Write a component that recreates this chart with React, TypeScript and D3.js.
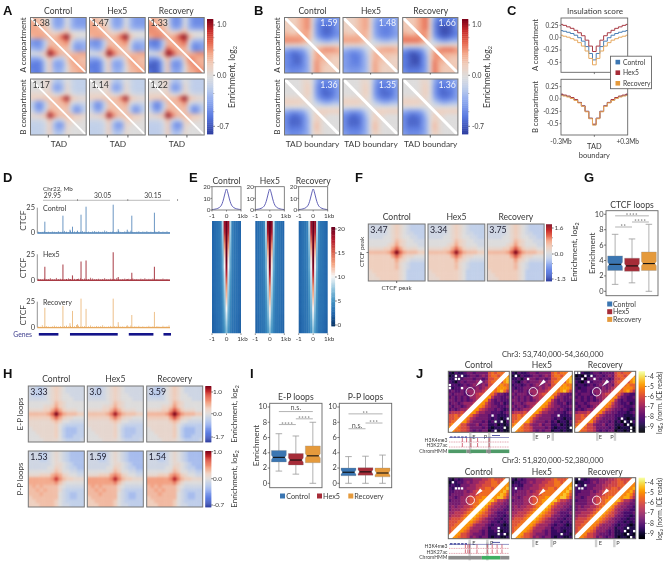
import React from "react";
import * as d3 from "d3";

const conditions = ["Control", "Hex5", "Recovery"];
const condColors = ["#3b76b2", "#a62c38", "#e59a3c"];
const lineColors = ["#4a7fb5", "#a83a44", "#e6a85e"];

// pile-up matrices (units: tenths of the colour range, -10..10)
const tadA = [
  [3,3,2,1,0,-4,-5,-4,0,-3,-5,-5,-5],
  [4,3,3,2,0,-4,-5,-4,0,-3,-5,-5,-5],
  [4,4,3,3,1,-3,-4,-3,1,-3,-4,-4,-4],
  [4,4,4,3,2,1,1,2,3,0,0,0,0],
  [3,4,4,4,3,3,4,7,10,3,1,0,0],
  [-5,-6,-5,-2,3,3,4,4,6,0,-3,-3,-3],
  [-5,-6,-5,-2,3,3,3,4,4,-1,-5,-5,-4],
  [-3,-4,-4,-1,6,4,3,2,3,-1,-5,-5,-4],
  [0,0,1,3,10,7,4,3,3,3,3,4,4],
  [-4,-4,-3,0,3,-1,-2,-2,2,4,4,3,3],
  [-6,-7,-6,-2,2,-4,-5,-4,1,4,4,3,3],
  [-7,-7,-6,-2,2,-4,-5,-4,0,3,4,4,3],
  [-6,-7,-6,-2,2,-3,-4,-3,0,3,3,4,4],
];
const tadB = [
  [0,0,0,1,1,-2,-3,-2,0,-1,-2,-2,-2],
  [0,0,0,1,1,-4,-5,-3,1,-1,-2,-2,-2],
  [0,0,0,1,1,-4,-5,-3,1,-1,-2,-2,-2],
  [1,1,1,1,2,0,-1,0,2,0,-1,-1,-1],
  [2,2,2,3,2,3,3,6,10,3,2,1,1],
  [-2,-5,-5,-2,3,3,3,3,5,0,-1,-1,-1],
  [-2,-6,-6,-2,2,3,3,3,3,-2,-5,-4,-2],
  [-1,-4,-4,-1,5,3,3,2,3,-2,-6,-5,-2],
  [1,1,2,3,10,6,3,3,3,3,2,2,1],
  [-1,-1,-1,0,3,-1,-2,-1,2,2,1,1,0],
  [-2,-2,-2,-1,2,-3,-6,-5,1,1,0,0,0],
  [-2,-2,-2,-1,2,-3,-5,-4,1,0,0,0,0],
  [-2,-2,-2,-1,2,-2,-3,-2,1,0,0,0,0],
];
const boundA = [
  [2,2,2,3,4,5,1,-4,-6,-6,-6,-6,-5],
  [2,2,2,3,4,5,1,-5,-7,-7,-7,-7,-5],
  [2,2,2,3,4,5,1,-5,-7,-8,-8,-7,-5],
  [3,2,2,3,4,4,1,-5,-7,-8,-8,-7,-6],
  [4,4,4,4,4,4,1,-4,-6,-7,-7,-6,-5],
  [5,5,5,5,4,3,0,-2,-3,-4,-4,-3,-3],
  [1,1,1,1,1,0,0,0,1,1,1,1,1],
  [-4,-5,-5,-5,-4,-2,0,3,4,5,5,5,4],
  [-6,-7,-8,-7,-6,-3,1,4,4,3,3,3,3],
  [-6,-7,-8,-8,-6,-4,1,4,4,3,3,2,2],
  [-6,-7,-8,-8,-6,-4,1,5,3,3,2,2,2],
  [-6,-7,-7,-7,-6,-4,1,5,3,2,2,2,2],
  [-5,-6,-6,-6,-5,-4,1,5,3,2,2,2,2],
];
const boundB = [
  [0,0,0,0,1,1,0,-4,-6,-6,-6,-5,-4],
  [0,0,0,0,1,2,0,-5,-7,-7,-7,-6,-5],
  [0,0,0,0,1,2,0,-5,-7,-8,-7,-7,-5],
  [0,0,0,0,1,2,0,-5,-7,-8,-8,-7,-5],
  [1,1,1,1,1,1,0,-4,-6,-7,-7,-6,-5],
  [2,2,2,2,1,1,0,-2,-3,-4,-4,-3,-3],
  [0,0,0,0,0,0,0,0,0,0,0,0,0],
  [-4,-5,-5,-5,-4,-2,0,1,2,2,2,2,2],
  [-6,-7,-8,-7,-6,-3,0,2,1,1,0,0,0],
  [-6,-8,-8,-8,-6,-4,0,2,1,0,0,0,0],
  [-6,-8,-8,-8,-6,-4,0,3,1,0,0,0,0],
  [-6,-7,-7,-7,-6,-4,0,3,1,0,0,0,0],
  [-5,-6,-6,-6,-5,-4,0,2,1,0,0,0,0],
];
const loopF = [
  [-1,-1,-1,-1,-1,0,1,2,1,0,-1,-2,-2,-2,-2],
  [-1,-1,-1,-1,-1,0,1,2,1,0,-1,-2,-2,-2,-2],
  [-1,-1,-1,-1,-1,0,1,2,1,0,-1,-1,-2,-2,-2],
  [-1,-1,-1,-1,0,0,1,2,1,0,0,-1,-1,-2,-2],
  [0,0,0,0,0,0,1,3,2,1,0,0,-1,-1,-1],
  [0,0,0,0,0,1,2,4,2,1,0,0,0,-1,-1],
  [1,1,1,1,2,2,4,6,4,2,1,1,1,0,0],
  [3,3,3,3,3,4,6,10,6,4,3,3,3,2,2],
  [2,2,2,2,2,2,4,6,4,2,1,1,0,0,0],
  [2,2,2,2,2,2,2,4,2,1,0,-1,-1,-1,-1],
  [2,2,2,2,2,2,2,3,1,0,-1,-2,-2,-2,-2],
  [2,2,2,2,2,2,2,3,1,0,-1,-2,-2,-2,-2],
  [1,2,2,2,2,2,2,2,1,0,-2,-2,-2,-2,-2],
  [1,1,2,2,2,2,2,2,1,0,-2,-2,-2,-2,-2],
  [1,1,1,2,2,2,2,2,1,0,-2,-2,-2,-2,-2],
];
const loopEP = [
  [-1,-1,-2,-2,-1,0,1,2,1,0,-1,-1,-1,-1,-1],
  [-1,-2,-2,-2,-1,0,1,2,1,0,-1,-1,-1,-1,-1],
  [-1,-2,-2,-2,-1,0,1,2,1,0,0,-1,-1,-1,-1],
  [-1,-1,-1,-1,-1,0,1,2,1,0,0,0,-1,-1,-1],
  [0,0,0,0,0,0,1,3,2,1,0,0,0,0,0],
  [0,0,0,0,1,1,2,4,2,1,0,0,0,0,0],
  [1,1,1,1,2,2,4,6,4,2,1,1,1,0,0],
  [3,3,3,3,3,4,6,10,6,4,3,3,3,2,2],
  [2,2,2,2,2,2,4,6,4,2,1,1,0,0,0],
  [1,1,1,1,1,1,2,3,2,0,0,-1,-1,-1,-1],
  [1,1,1,1,1,1,1,2,0,-1,-2,-2,-2,-2,-2],
  [0,1,1,1,1,1,1,2,0,-2,-3,-3,-3,-2,-2],
  [0,0,1,1,1,1,1,2,0,-2,-3,-3,-3,-2,-2],
  [0,0,0,1,1,1,1,2,0,-2,-3,-3,-2,-2,-2],
  [0,0,0,0,1,1,1,1,0,-1,-2,-2,-2,-2,-1],
];
const loopPP = [
  [-1,-1,-1,-2,-2,-1,0,1,0,-1,-2,-3,-3,-3,-3],
  [-1,-1,-1,-2,-2,-1,0,1,0,-1,-2,-3,-3,-3,-3],
  [-1,-1,-1,-2,-2,-1,0,1,0,-1,-2,-3,-3,-3,-3],
  [-1,-1,-1,-1,-1,-1,0,1,1,0,-1,-2,-3,-3,-3],
  [-1,-1,-1,-1,-1,0,0,2,1,0,-1,-2,-2,-3,-3],
  [0,0,0,0,0,0,1,3,2,0,0,-1,-1,-2,-2],
  [1,1,1,2,2,2,4,5,4,2,1,0,0,-1,-1],
  [4,4,4,4,4,4,5,8,5,3,2,2,1,1,1],
  [4,4,4,4,4,4,4,5,3,1,0,0,0,0,0],
  [3,4,3,4,3,3,3,3,1,0,-1,-1,-1,-1,-1],
  [3,3,4,3,4,3,3,3,1,-1,-2,-2,-2,-2,-2],
  [3,3,3,4,3,3,3,3,0,-1,-2,-3,-3,-2,-2],
  [2,3,3,3,3,3,3,3,0,-1,-2,-3,-3,-2,-2],
  [2,2,3,3,3,3,3,2,0,-1,-2,-2,-2,-2,-2],
  [2,2,2,3,3,3,3,2,0,-1,-1,-2,-2,-2,-2],
];
const tadALabels = ["1.38", "1.47", "1.33"];
const tadBLabels = ["1.17", "1.14", "1.22"];
const boundALabels = ["1.59", "1.48", "1.66"];
const boundBLabels = ["1.36", "1.35", "1.36"];
const loopFLabels = ["3.47", "3.34", "3.75"];
const loopEPLabels = ["3.33", "3.0", "3.59"];
const loopPPLabels = ["1.53", "1.59", "1.54"];
const tadAGain = [1, 1.0, 1.2];
const tadBGain = [0.95, 0.95, 1.05];
const boundAGain = [1, 0.85, 1.15];
const boundBGain = [1, 1, 1];
const loopFGain = [1, 0.95, 1.05];
const loopEPGain = [1, 0.9, 1.1];
const loopPPGain = [0.95, 1.05, 1.05];

// C: insulation score
const insA = [
  [.145,.13,.11,.085,.05,0,-.07,-.18,-.32,-.45,-.32,-.18,-.07,0,.05,.085,.11,.13,.145],
  [.27,.25,.22,.19,.15,.10,.04,-.05,-.17,-.28,-.17,-.05,.04,.10,.15,.19,.22,.25,.27],
  [.05,.03,.01,-.02,-.05,-.10,-.17,-.27,-.42,-.55,-.42,-.27,-.17,-.10,-.05,-.02,.01,.03,.05],
];
const insB = [
  [.09,.07,.05,.02,-.02,-.07,-.14,-.25,-.39,-.52,-.39,-.25,-.14,-.07,-.02,.02,.05,.07,.09],
  [.10,.08,.06,.03,-.01,-.07,-.14,-.25,-.39,-.51,-.39,-.25,-.14,-.07,-.01,.03,.06,.08,.10],
  [.07,.06,.04,.01,-.03,-.08,-.15,-.26,-.40,-.53,-.40,-.26,-.15,-.08,-.03,.01,.04,.06,.07],
];

// D: CTCF tracks
const peakPos = [29.935, 29.971, 29.978, 29.985, 29.99, 30.0, 30.007, 30.017, 30.071, 30.081, 30.099, 30.108, 30.153];
const peakHeights = [
  [11, 17, 1, 3, 6, 2, 18, 26, 28, 3.5, 3, 17, 20],
  [13, 15, 1, 1, 4.5, 1, 18, 19, 27, 3, 1, 7, 13],
  [19, 21, 1, 4, 16, 3, 28, 18, 28, 5, 2, 12, 15],
];
const noise = [1,.6,.8,1.4,.7,1,.5,1.2,.9,.6,1.5,.8,1,1.8,.7,.6,2,.9,1.2,.8,.5,1,1.6,.9,.7,1.1,.6,1.3,1.7,.9,1.4,.8,1,2.2,1.5,.7,.9,1.2,.6,1,1.8,.8,.7,1.3,.9,1.1,2,.8,.6,1,1.4,.7,1.2,.9,1.5,.8,1,.6,1.3,.9,1.7,.7,1.1,.8,1.4,.6];
const genes = [[29.923, 29.962], [29.985, 30.08], [30.102, 30.151], [30.171, 30.186]];

// E: CTCF enrichment
const profile = [.4,.5,.7,1,1.4,2.1,3.2,5.5,9.5,14.5,18,14.5,9.5,5.5,3.2,2.1,1.4,1,.7,.5,.4];
const stackHalf = [
  [2.4,2.8,3,3.2,4,8.5,18,20],[2.4,2.8,3.1,3.3,4,8,17,20],[2.5,2.8,3.1,3.3,4,7.5,15,20],[2.5,2.8,3.1,3.3,4,7,13,20],
  [2.5,2.8,3.1,3.3,3.8,6.5,11.5,20],[2.5,2.8,3.1,3.3,3.8,6,10.5,20],[2.5,2.8,3.1,3.3,3.8,6,10,19],[2.5,2.8,3.1,3.2,3.7,5.5,9,17],
  [2.5,2.8,3,3.2,3.6,5.2,8.5,15],[2.5,2.8,3,3.2,3.5,5,8,13],[2.4,2.7,3,3.1,3.4,4.8,7.5,12],[2.4,2.7,3,3.1,3.4,4.5,7,11],
  [2.4,2.7,3,3.1,3.3,4.3,6.5,10],[2.3,2.6,2.9,3.1,3.3,4.2,6,9],[2.2,2.5,2.8,3,3.2,4,5.5,8],[2.2,2.5,2.8,3,3.1,3.8,5,7],
];
const stackGain = [1, 1.05, 1.02];

// G, I: box plots [low, q1, median, q3, high]
const boxCTCF = [[0.9,2.7,3.5,4.6,7.4],[1.1,2.6,3.3,4.3,6.8],[0,2.7,3.6,5.1,8.7]];
const boxEP = [[1.6,2.8,3.4,4.3,6.5],[1.2,2.4,3.05,3.9,6.2],[0,2.7,3.6,4.9,8]];
const boxPP = [[0,1.0,1.45,2.0,3.5],[0,1.05,1.5,2.05,3.55],[0,.85,1.35,2.0,3.7]];
const brCTCF = [[0,1,8.35,"**"],[1,2,9.0,"****"],[0,2,9.8,"****"]];
const brEP = [[0,1,7.7,"****"],[1,2,8.45,"****"],[0,2,9.4,"n.s."]];
const brPP = [[0,1,7.15,"n.s."],[1,2,7.9,"***"],[0,2,9.1,"**"]];

// J: Micro-C maps, digit = contact level 0..9
const region1 = [
  "10211233233336767778","01021123323436776788","11202333233236677789","21023233342346777689","12212323433436677877",
  "21223333343456778887","23223244444567878975","32333234456677753322","23232324455788533223","33232323457885323222",
  "23323444578864322312","32332345788754332223","23234457886543323212","45556578864433222123","66767787543332221112",
  "66778875433332121011","67788864333231201102","78886643342331120101","89876653333231011100","98776653232330110100",
];
const region2 = [
  "10212333444556766677","01122343445566776778","12113334455666777788","21223344456677677889","22333434566777778897",
  "23333445567777888986","33234456677888889975","23334456678889975543","33334456778998654433","34344556789986544332",
  "34445567899875443322","44555678998765432223","45556789987664332212","56667889876543322122","66677888765443221212",
  "66778887544432122101","67788875444331221111","67888764443231121011","78886654333231110110","88876653432331011001",
];
const regionDelta = [0, 0.2, -0.35];
const holes1 = [
  [[1,2],[2,2],[1,4],[2,3],[4,0],[5,0],[5,4],[14,14],[16,15],[16,17],[15,19],[18,18],[19,15]],
  [[1,1],[2,5],[14,15],[18,19]],
  [[0,0],[0,1],[1,3],[1,5],[2,2],[3,4],[2,6],[15,15],[16,16],[16,18],[17,17],[18,18],[19,18]],
];
const holes2 = [
  [[1,1],[3,2],[3,3],[3,4],[16,16],[17,16],[18,16],[18,18]],
  [[3,1],[18,16]],
  [[0,1],[2,0],[3,1],[3,2],[2,3],[17,16],[16,17],[18,17],[19,18],[17,19]],
];
const marks1 = { e: [.36,.37,.37], p: [.67,.68,.66], le: .42, lp: .61 };
const marks2 = { e: [.35,.36,.35], p: [.64,.66,.65], le: .42, lp: .71 };
const k4Peaks1 = [.23,.30,.37,.48,.67];
const k27Peaks1 = [.23,.37,.48,.67];
const k4Peaks2 = [.28,.32,.35,.47,.64,.72,.8,.88];
const k27Peaks2 = [.28,.32,.35,.47,.64,.72,.8,.88];
const chrom1: [number, number, string][] = [[0,.3,"#4f9a68"],[.3,.36,"#8c8c8c"],[.36,.62,"#4f9a68"],[.62,.7,"#8c8c8c"],[.7,1,"#4f9a68"]];
const chrom2: [number, number, string][] = [[0,.55,"#8c8c8c"],[.55,.85,"#3fae62"],[.85,1,"#8c8c8c"]];

const FONT = "Lato, 'Open Sans', sans-serif";
const INK = "#3a3a3a";
const SC = 1.13;

const cool = d3.scaleLinear<string>()
  .domain([-10,-7,-4,-2,0,2,4,6,8,10])
  .range(["#2b3a9e","#5a7ae0","#94aeef","#c0cfea","#dddcdc","#efcfbe","#f3a789","#e5664e","#c62a2a","#7a0018"])
  .clamp(true);
const rdbu = d3.scaleLinear<string>()
  .domain([0,2.5,5,7.5,10,12.5,15,17.5,20])
  .range(["#053061","#2166ac","#4393c3","#92c5de","#f7f7f7","#f4a582","#d6604d","#b2182b","#67001f"])
  .clamp(true);
const infernoOf = (d: number) => d3.interpolateInferno(Math.max(0, Math.min(1, (d + 0.8) / 11.6)));

function T({ x, y, rot, a = "middle", s = 8, fill = INK, w, ls, children }: any) {
  return (
    <text x={x} y={y} fontSize={s * SC} fill={fill} fontWeight={w} textAnchor={a} fontFamily={FONT} letterSpacing={ls}
      transform={rot ? `rotate(${rot} ${x} ${y})` : undefined}>{children}</text>
  );
}
function Letter({ x, y, c }: any) {
  return <text x={x} y={y} fontSize={13} fontFamily="'Liberation Sans', sans-serif" fontWeight={700} fill="#111">{c}</text>;
}

let clipCounter = 0;
function Heat({ x, y, w, h, m, gain = 1, blur = "b14", diag, diagDir = "down", label, labelSide = "left", labelFill = INK, labelSize = 8.5, stroke = "#777", color = cool, ticks = [], tickLen = 2.5 }: any) {
  const id = `clip${clipCounter++}`;
  const n = m.length, k = m[0].length;
  const sx = d3.scaleBand<number>().domain(d3.range(k)).range([x, x + w]);
  const sy = d3.scaleBand<number>().domain(d3.range(n)).range([y, y + h]);
  const pad = 10;
  return (
    <g>
      <clipPath id={id}><rect x={x} y={y} width={w} height={h} /></clipPath>
      <g clipPath={`url(#${id})`}>
        <g filter={blur ? `url(#${blur})` : undefined}>
          {m.map((row: number[], r: number) => row.map((v, c) => {
            const x0 = sx(c)! - (c === 0 ? pad : 0);
            const y0 = sy(r)! - (r === 0 ? pad : 0);
            const ww = sx.bandwidth() + (c === 0 || c === k - 1 ? pad : 0) + 0.4;
            const hh = sy.bandwidth() + (r === 0 || r === n - 1 ? pad : 0) + 0.4;
            return <rect key={`${r}-${c}`} x={x0} y={y0} width={ww} height={hh} fill={color(v * gain)} />;
          }))}
        </g>
        {diag ? (diagDir === "down"
          ? <line x1={x} y1={y} x2={x + w} y2={y + h} stroke="#fff" strokeWidth={diag} />
          : <line x1={x} y1={y + h} x2={x + w} y2={y} stroke="#fff" strokeWidth={diag} />) : null}
      </g>
      <rect x={x} y={y} width={w} height={h} fill="none" stroke={stroke} strokeWidth={1} />
      {ticks.map((f: number) => <line key={f} x1={x + f * w} x2={x + f * w} y1={y + h} y2={y + h + tickLen} stroke="#444" strokeWidth={0.8} />)}
      {label ? <T x={labelSide === "left" ? x + 2 : x + w - 2} y={y + 8.5} a={labelSide === "left" ? "start" : "end"} s={labelSize} fill={labelFill}>{label}</T> : null}
    </g>
  );
}
function ColorBar({ x, y, w, h, color, ticks, minor = [], scale, labelX, size = 6.5, fill = INK }: any) {
  const steps = d3.range(60);
  return (
    <g>
      {steps.map((i) => <rect key={i} x={x} y={y + (i * h) / 60} width={w} height={h / 60 + 0.4} fill={color(1 - (i + 0.5) / 60)} />)}
      {ticks.map((t: number[] | any) => (
        <g key={t[1]}>
          <line x1={x + w} x2={x + w + 1.6} y1={scale(t[0])} y2={scale(t[0])} stroke="#333" strokeWidth={0.7} />
          <T x={labelX} y={scale(t[0]) + 2.3} a="start" s={size} fill={fill}>{t[1]}</T>
        </g>
      ))}
      {minor.map((t: number) => <line key={t} x1={x + w} x2={x + w + 1} y1={scale(t)} y2={scale(t)} stroke="#555" strokeWidth={0.5} />)}
    </g>
  );
}
function EnrichLabel({ x, y, s = 8.6 }: any) {
  return (
    <text x={x} y={y} fontSize={s} fill={INK} textAnchor="middle" fontFamily={FONT} transform={`rotate(-90 ${x} ${y})`}>
      Enrichment, log<tspan fontSize={s * 0.65} dy={1.5}>2</tspan>
    </text>
  );
}

function Box({ x0, x1, y0, y1, data, brackets, title, yLabelX }: any) {
  const sx = d3.scaleBand<number>().domain([0, 1, 2]).range([x0, x1]).paddingInner(0.12).paddingOuter(0.1);
  const sy = d3.scaleLinear().domain([0, 10]).range(y0);
  const top = y1[0], bottom = y1[1];
  return (
    <g>
      {data.map((d: number[], i: number) => {
        const x = sx(i)!, bw = sx.bandwidth();
        const xc = x + bw / 2;
        const inset = bw * 0.1;
        const notch = 0.28;
        const path = d3.path();
        path.moveTo(x, sy(d[1]));
        path.lineTo(x + bw, sy(d[1]));
        path.lineTo(x + bw, sy(d[2] - notch));
        path.lineTo(x + bw - inset, sy(d[2]));
        path.lineTo(x + bw, sy(d[2] + notch));
        path.lineTo(x + bw, sy(d[3]));
        path.lineTo(x, sy(d[3]));
        path.lineTo(x, sy(d[2] + notch));
        path.lineTo(x + inset, sy(d[2]));
        path.lineTo(x, sy(d[2] - notch));
        path.closePath();
        return (
          <g key={i}>
            <line x1={xc} x2={xc} y1={sy(d[0])} y2={sy(d[4])} stroke="#a8a8a8" strokeWidth={0.9} />
            <line x1={xc - bw * 0.22} x2={xc + bw * 0.22} y1={sy(d[0])} y2={sy(d[0])} stroke="#999" strokeWidth={0.8} />
            <line x1={xc - bw * 0.22} x2={xc + bw * 0.22} y1={sy(d[4])} y2={sy(d[4])} stroke="#999" strokeWidth={0.8} />
            <path d={path.toString()} fill={condColors[i]} stroke="#888" strokeWidth={0.3} />
            <line x1={x + inset} x2={x + bw - inset} y1={sy(d[2])} y2={sy(d[2])} stroke="#111" strokeWidth={1.1} />
          </g>
        );
      })}
      {brackets.map((b: any, i: number) => {
        const xa = sx(b[0])! + sx.bandwidth() / 2, xb = sx(b[1])! + sx.bandwidth() / 2;
        const isStar = String(b[3]).includes("*");
        return (
          <g key={i}>
            <line x1={xa} x2={xb} y1={sy(b[2])} y2={sy(b[2])} stroke="#aaa" strokeWidth={0.9} />
            <T x={(xa + xb) / 2} y={sy(b[2]) + (isStar ? 1.4 : -1.2)} s={isStar ? 5.2 : 6.4} ls={isStar ? 0.6 : 0} fill="#555">{b[3]}</T>
          </g>
        );
      })}
      <rect x={x0} y={top} width={x1 - x0} height={bottom - top} fill="none" stroke="#666" strokeWidth={0.9} />
      {[0, 2, 4, 6, 8, 10].map((v) => (
        <g key={v}>
          <line x1={x0 - 2} x2={x0} y1={sy(v)} y2={sy(v)} stroke="#444" strokeWidth={0.7} />
          <T x={x0 - 2.5} y={sy(v) + 2.4} a="end" s={6.6}>{v}</T>
        </g>
      ))}
      <T x={(x0 + x1) / 2} y={top - 3} s={7.6}>{title}</T>
      {yLabelX ? <T x={yLabelX} y={(top + bottom) / 2} rot={-90} s={7.3}>Enrichment</T> : null}
    </g>
  );
}

function Insulation({ x0, x1, top, bottom, zero, data }: any) {
  const sx = d3.scaleLinear().domain([0, 18]).range([x0, x1]);
  const sy = d3.scaleLinear().domain([0, 0.25]).range([zero, zero - 12.33]);
  const line = d3.line<number>().x((_, i) => sx(i)).y((d) => sy(d)).curve(d3.curveStep);
  return (
    <g>
      {data.map((s: number[], i: number) => <path key={i} d={line(s)!} fill="none" stroke={lineColors[i]} strokeWidth={1} />)}
      <rect x={x0} y={top} width={x1 - x0} height={bottom - top} fill="none" stroke="#666" strokeWidth={0.9} />
      {[0.25, 0, -0.25, -0.5].map((v) => (
        <g key={v}>
          <line x1={x0 - 1.5} x2={x0} y1={sy(v)} y2={sy(v)} stroke="#444" strokeWidth={0.6} />
          <T x={x0 - 2.5} y={sy(v) + 2.2} a="end" s={5.8}>{v === 0 ? "0.0" : String(v)}</T>
        </g>
      ))}
      <line x1={(x0 + x1) / 2} x2={(x0 + x1) / 2} y1={bottom} y2={bottom + 1.8} stroke="#444" strokeWidth={0.7} />
    </g>
  );
}

function Track({ idx, zero, top, label, xs }: any) {
  const h = d3.scaleLinear().domain([0, 25]).range([zero, top]);
  const nb = d3.scaleBand<number>().domain(d3.range(noise.length)).range(xs.range());
  return (
    <g stroke={lineColors[idx]}>
      {noise.map((v, i) => {
        const vv = noise[(i + idx * 7) % noise.length];
        return <line key={i} x1={nb(i)! + 1} x2={nb(i)! + 1} y1={zero} y2={h(vv)} strokeWidth={0.9} opacity={0.8} />;
      })}
      {peakPos.map((p, i) => <line key={p} x1={xs(p)} x2={xs(p)} y1={zero} y2={h(peakHeights[idx][i])} strokeWidth={idx === 1 ? 1.1 : 0.9} opacity={idx === 2 ? 0.8 : 0.9} />)}
      <line x1={xs.range()[0]} x2={xs.range()[1]} y1={zero + 0.3} y2={zero + 0.3} strokeWidth={1.4} />
      <line x1={37.3} x2={37.3} y1={top} y2={zero} stroke="#666" strokeWidth={0.7} />
      <g stroke="none">
        <T x={35} y={top + 2.6} a="end" s={6.6}>25</T>
        <T x={35} y={zero + 2.6} a="end" s={6.6}>0</T>
        <T x={43} y={top + 2.8} a="start" s={6.3}>{label}</T>
        <T x={26} y={zero - 12} rot={-90} s={7.3}>CTCF</T>
      </g>
    </g>
  );
}

function Stack({ x, w, gain, titleText }: any) {
  const full = stackHalf.map((r) => [...r, ...r.slice(0, 7).reverse()]);
  const sx = d3.scaleLinear().domain([-1, 1]).range([x, x + w]);
  const sy = d3.scaleLinear().domain([0, 20]).range([210, 186.7]);
  const line = d3.line<number>().x((_, i) => sx(-1 + i * 0.1)).y((d) => sy(d)).curve(d3.curveMonotoneX);
  return (
    <g>
      <T x={x + w / 2} y={184} s={7.6}>{titleText}</T>
      <path d={line(profile)!} fill="none" stroke="#4f4fae" strokeWidth={0.9} />
      <rect x={x} y={186.7} width={w} height={23.3} fill="none" stroke="#666" strokeWidth={0.8} />
      {[20, 10, 0].map((v) => (
        <g key={v}>
          <line x1={x - 1.5} x2={x} y1={sy(v)} y2={sy(v)} stroke="#444" strokeWidth={0.6} />
          <T x={x - 1.5} y={sy(v) + 2.2} a="end" s={5.6}>{v}</T>
        </g>
      ))}
      {[[-1, "-1"], [0, "0"], [1, "1kb"]].map(([v, l]: any) => (
        <g key={v}>
          <line x1={sx(v)} x2={sx(v)} y1={210} y2={211.5} stroke="#444" strokeWidth={0.6} />
          <T x={sx(v) + (v === 1 ? 1.5 : 0)} y={217.5} s={5.6}>{l}</T>
          <line x1={sx(v)} x2={sx(v)} y1={333.3} y2={335} stroke="#444" strokeWidth={0.6} />
          <T x={sx(v) + (v === 1 ? 1.5 : 0)} y={341} s={5.6}>{l}</T>
        </g>
      ))}
      <Heat x={x} y={221} w={w} h={112.3} m={full} gain={gain} color={rdbu} blur="bE" stroke="none" />
    </g>
  );
}

function Micro({ yTop, title, matrix, holes, marks, k4, k27, chrom, geneRow, circle, arrow }: any) {
  const xs = [448.3, 511.3, 574.7];
  const w = 61, h = 61;
  const cbarScale = d3.scaleLinear().domain([-4, -9]).range([yTop + 5, yTop + 55.7]);
  const trackBase = yTop + 64.7;
  return (
    <g>
      <T x={552.7} y={yTop - 14.5} s={6.8}>{title}</T>
      {xs.map((x, i) => {
        const cells = matrix.map((row: string) => row.split("").map((c: string) => +c + regionDelta[i]));
        const sx = d3.scaleBand<number>().domain(d3.range(20)).range([x, x + w]);
        const sy = d3.scaleBand<number>().domain(d3.range(20)).range([yTop, yTop + h]);
        const cx = x + circle[0] * w, cy = yTop + circle[1] * h;
        const tipX = x + arrow[0] * w, tipY = yTop + arrow[1] * h;
        return (
          <g key={i}>
            <T x={x + w / 2} y={yTop - 3} s={7.6}>{conditions[i]}</T>
            <Heat x={x} y={yTop} w={w} h={h} m={cells} color={infernoOf} blur="b04" diag={4.6} diagDir="up" stroke="#666" />
            {holes[i].map(([r, c]: number[]) => <rect key={`${r}-${c}`} x={sx(c)! + 0.4} y={sy(r)! + 0.4} width={2.3} height={2.3} fill="#fff" />)}
            <circle cx={cx} cy={cy} r={4.2} fill="none" stroke="#fff" strokeWidth={0.9} />
            <path d={d3.line()([[tipX, tipY], [tipX + 5, tipY - 7], [tipX + 7.5, tipY - 4.5]])! + "Z"} fill="#fff" />
            {[marks.e[i], marks.p[i]].map((f: number, j: number) => (
              <rect key={j} x={x + f * w - 1.2} y={yTop + h + 0.5} width={2.4} height={8} fill="#cfcfcf" />
            ))}
            <T x={x + marks.le * w} y={yTop + h + 6.5} s={5} fill="#444">E</T>
            <T x={x + marks.lp * w} y={yTop + h + 6.5} s={5} fill="#444">P</T>
          </g>
        );
      })}
      <ColorBar x={638.7} y={yTop} w={6.3} h={h} color={(t: number) => d3.interpolateInferno(t)} scale={cbarScale}
        ticks={[[-4, "-4"], [-5, "-5"], [-6, "-6"], [-7, "-7"], [-8, "-8"], [-9, "-9"]]} labelX={647.5} size={6} />
      <text x={662} y={yTop + 31.5} fontSize={6.6} fill={INK} textAnchor="middle" fontFamily={FONT} transform={`rotate(-90 662 ${yTop + 31.5})`}>
        log<tspan fontSize={4.6} dy={1}>2</tspan><tspan dy={-1}> (norm. ICE reads)</tspan>
      </text>
      <g>
        {[marks.e[0], marks.p[0]].map((f: number) => <rect key={f} x={448.3 + f * w - 1.2} y={trackBase} width={2.4} height={18} fill="#bdbdbd" opacity={0.7} />)}
        <line x1={449} x2={509} y1={trackBase + geneRow} y2={trackBase + geneRow} stroke="#2a2f8f" strokeWidth={0.5} />
        <line x1={450} x2={467} y1={trackBase + geneRow - 0.5} y2={trackBase + geneRow - 0.5} stroke="#2a2f8f" strokeWidth={1.2} strokeDasharray="2.5 1.2" />
        <line x1={492} x2={500} y1={trackBase + geneRow - 2} y2={trackBase + geneRow - 2} stroke="#2a2f8f" strokeWidth={0.8} />
        {[[k4, trackBase + 6], [k27, trackBase + 11]].map(([pk, yy]: any, j) => (
          <g key={j}>
            <line x1={449} x2={509} y1={yy} y2={yy} stroke="#c4435a" strokeWidth={0.5} strokeDasharray="1 0.7" />
            {pk.map((f: number) => <line key={f} x1={448.3 + f * w} x2={448.3 + f * w} y1={yy} y2={yy - 4} stroke="#c4354a" strokeWidth={0.7} />)}
          </g>
        ))}
        {chrom.map(([a, b, c]: any, j: number) => <rect key={j} x={448.3 + a * w} y={trackBase + 13.5} width={(b - a) * w} height={3.6} fill={c} />)}
        <T x={447.5} y={trackBase + 6} a="end" s={4.5}>H3K4me3</T>
        <T x={447.5} y={trackBase + 11.2} a="end" s={4.5}>H3K27ac</T>
        <T x={447.5} y={trackBase + 16.8} a="end" s={4.5}>ChromHMM</T>
      </g>
    </g>
  );
}

export default function App() {
  clipCounter = 0;
  const colsA = [30.5, 89.5, 148.5];
  const colsB = [284.5, 343, 402.7];
  const colsF = [368.3, 428, 487.3];
  const colsH = [28.3, 87.3, 146.7];
  const colsE = [212, 255.3, 298.7];
  const coolT = (t: number) => cool(t * 20 - 10);
  const sA = d3.scaleLinear().domain([-0.7, 0, 1]).range([126.3, 75.3, 25]);
  const sF = d3.scaleLinear().domain([-1.3, 0, 1.6]).range([279, 254, 228]);
  const sH1 = d3.scaleLinear().domain([-1.7, 0, 1]).range([437, 413.7, 392]);
  const sH2 = d3.scaleLinear().domain([-0.7, 0, 1]).range([505, 478.7, 451.7]);
  const sE = d3.scaleLinear().domain([0, 20]).range([325, 229]);
  const sxD = d3.scaleLinear().domain([29.92, 30.184]).range([37.3, 170]);
  const sxC = d3.scaleLinear().domain([-0.3, 0.3]).range([561, 627.7]);
  const tadTicks = [0.32, 0.69];
  return (
    <svg width={665} height={564} viewBox="0 0 665 564" style={{ position: "fixed", left: 0, top: 0, background: "#fff", filter: "blur(0.35px)" }} xmlns="http://www.w3.org/2000/svg">
      <defs>
        <filter id="b14" x="-10%" y="-10%" width="120%" height="120%" colorInterpolationFilters="sRGB"><feGaussianBlur stdDeviation="2.2" /></filter>
        <filter id="b09" x="-10%" y="-10%" width="120%" height="120%" colorInterpolationFilters="sRGB"><feGaussianBlur stdDeviation="1.3" /></filter>
        <filter id="b04" x="-10%" y="-10%" width="120%" height="120%" colorInterpolationFilters="sRGB"><feGaussianBlur stdDeviation="0.5" /></filter>
        <filter id="bE" x="-10%" y="-10%" width="120%" height="120%" colorInterpolationFilters="sRGB"><feGaussianBlur stdDeviation="0.7 2" /></filter>
      </defs>
      <rect width={665} height={564} fill="#fff" />

      {/* A */}
      <Letter x={3} y={15} c="A" />
      {colsA.map((x, i) => (
        <g key={i}>
          <T x={x + 27.7} y={13.5} s={7.6}>{conditions[i]}</T>
          <Heat x={x} y={17.5} w={55.7} h={55.5} m={tadA} gain={tadAGain[i]} diag={1.8} label={tadALabels[i]} labelSize={7.8} />
          <Heat x={x} y={79} w={55.7} h={56} m={tadB} gain={tadBGain[i]} diag={1.8} label={tadBLabels[i]} labelSize={7.8} ticks={tadTicks} />
          <T x={x + 28.5} y={147} s={7.4}>TAD</T>
        </g>
      ))}
      <T x={26} y={45} rot={-90} s={7.2}>A compartment</T>
      <T x={26} y={107} rot={-90} s={7.2}>B compartment</T>
      <ColorBar x={207} y={19} w={6.3} h={115} color={coolT} scale={sA} ticks={[[1, "1.0"], [0, "0.0"], [-0.7, "-0.7"]]} minor={[0.75, 0.5, 0.25, -0.25, -0.5]} labelX={217} size={6} />
      <EnrichLabel x={235} y={77} />

      {/* B */}
      <Letter x={254} y={15} c="B" />
      {colsB.map((x, i) => (
        <g key={i}>
          <T x={x + 28} y={13.5} s={7.6}>{conditions[i]}</T>
          <Heat x={x} y={17.5} w={55.2} h={55.5} m={boundA} gain={boundAGain[i]} diag={3} label={boundALabels[i]} labelSide="right" labelFill="#eef2fb" labelSize={7.8} ticks={[0.5]} tickLen={1.5} />
          <Heat x={x} y={79} w={55.2} h={56} m={boundB} gain={boundBGain[i]} diag={3} label={boundBLabels[i]} labelSide="right" labelFill="#eef2fb" labelSize={7.8} ticks={[0.5]} />
          <T x={x + 28} y={147} s={7.4}>TAD boundary</T>
        </g>
      ))}
      <T x={280} y={45} rot={-90} s={7.2}>A compartment</T>
      <T x={280} y={107} rot={-90} s={7.2}>B compartment</T>
      <ColorBar x={462} y={19} w={6.3} h={115} color={coolT} scale={sA} ticks={[[1, "1.0"], [0, "0.0"], [-0.7, "-0.7"]]} minor={[0.75, 0.5, 0.25, -0.25, -0.5]} labelX={472} size={6} />
      <EnrichLabel x={490} y={77} />

      {/* C */}
      <Letter x={507} y={15} c="C" />
      <T x={595} y={13.5} s={7.2}>Insulation score</T>
      <Insulation x0={561} x1={627.7} top={18} bottom={72.3} zero={37.7} data={insA} />
      <Insulation x0={561} x1={627.7} top={79.3} bottom={135} zero={99} data={insB} />
      <T x={537.5} y={45} rot={-90} s={6.8}>A compartment</T>
      <T x={537.5} y={107} rot={-90} s={6.8}>B compartment</T>
      <T x={sxC(-0.3)} y={144} s={5.8}>-0.3Mb</T>
      <T x={sxC(0.3)} y={144} s={5.8}>+0.3Mb</T>
      <T x={sxC(0)} y={148.5} s={6.6}>TAD</T>
      <T x={sxC(0)} y={157.5} s={6.6}>boundary</T>
      <rect x={610.5} y={56.2} width={41} height={32.5} fill="#fff" stroke="#666" strokeWidth={0.9} />
      {conditions.map((c, i) => (
        <g key={c}>
          <rect x={615.5} y={59.8 + i * 10.6} width={4.6} height={4.6} fill={condColors[i]} />
          <T x={623} y={64.5 + i * 10.6} a="start" s={6}>{c}</T>
        </g>
      ))}

      {/* D */}
      <Letter x={3} y={181.7} c="D" />
      <T x={43} y={191} a="start" s={5.6}>Chr22, Mb</T>
      {[[29.95, "29.95"], [30.05, "30.05"], [30.15, "30.15"]].map(([v, l]: any) => <T key={l} x={sxD(v)} y={198.3} s={6}>{l}</T>)}
      <line x1={43} x2={170} y1={200.3} y2={200.3} stroke="#aaa" strokeWidth={0.8} />
      {[30.0, 30.1, 30.199].map((v) => <line key={v} x1={sxD(v)} x2={sxD(v)} y1={199} y2={201} stroke="#777" strokeWidth={0.7} />)}
      <Track idx={0} zero={232.7} top={207.7} label="Control" xs={sxD} />
      <Track idx={1} zero={280} top={254.3} label="Hex5" xs={sxD} />
      <Track idx={2} zero={327.3} top={301.7} label="Recovery" xs={sxD} />
      <T x={32} y={336.5} a="end" s={6} fill="#3c3c8c">Genes</T>
      {genes.map(([a, b]) => <rect key={a} x={sxD(a)} y={333} width={sxD(b) - sxD(a)} height={2.6} fill="#14148a" />)}

      {/* E */}
      <Letter x={189} y={181.7} c="E" />
      {colsE.map((x, i) => <Stack key={i} x={x} w={29} gain={stackGain[i]} titleText={conditions[i]} />)}
      <ColorBar x={331.3} y={227} w={3.8} h={99} color={(t: number) => rdbu(t * 20)} scale={sE} ticks={[[20, "20"], [15, "15"], [10, "10"], [5, "5"], [0, "0"]]} labelX={337.5} size={5.6} />

      {/* F */}
      <Letter x={355} y={181.7} c="F" />
      {colsF.map((x, i) => (
        <g key={i}>
          <T x={x + 28.5} y={220} s={7.6}>{conditions[i]}</T>
          <Heat x={x} y={224} w={56.8} h={57} m={loopF} gain={loopFGain[i]} blur="b09" label={loopFLabels[i]} labelSize={7.8} labelFill="#223" ticks={i === 0 ? [0.5] : []} tickLen={2} />
        </g>
      ))}
      <line x1={366.5} x2={368.3} y1={252.5} y2={252.5} stroke="#444" strokeWidth={0.7} />
      <T x={364} y={252} rot={-90} s={5.6}>CTCF peak</T>
      <T x={396.5} y={290} s={5.6}>CTCF peak</T>
      <ColorBar x={546} y={224.3} w={6} h={56.7} color={coolT} scale={sF} ticks={[[1.6, "1.6"], [0, "0.0"], [-1.3, "-1.3"]]} minor={[1, 0.5, -0.5, -1]} labelX={554.5} size={5.6} />
      <EnrichLabel x={577} y={252} s={8.2} />

      {/* G */}
      <Letter x={584} y={181.7} c="G" />
      <Box x0={606} x1={658} y0={[291.3, 214.3]} y1={[210.7, 295.7]} data={boxCTCF} brackets={brCTCF} title="CTCF loops" yLabelX={595} />
      {conditions.map((c, i) => (
        <g key={c}>
          <rect x={607.2} y={301.5 + i * 7.7} width={5} height={5} fill={condColors[i]} />
          <T x={613} y={306.5 + i * 7.7} a="start" s={6.2}>{c}</T>
        </g>
      ))}

      {/* H */}
      <Letter x={3} y={377.7} c="H" />
      {colsH.map((x, i) => (
        <g key={i}>
          <T x={x + 28} y={382} s={7.6}>{conditions[i]}</T>
          <Heat x={x} y={386} w={56} h={56} m={loopEP} gain={loopEPGain[i]} blur="b09" label={loopEPLabels[i]} labelSize={7.8} labelFill="#223" />
          <Heat x={x} y={451} w={56} h={56} m={loopPP} gain={loopPPGain[i]} blur="b09" label={loopPPLabels[i]} labelSize={7.8} labelFill="#223" />
        </g>
      ))}
      <T x={23} y={414} rot={-90} s={7}>E-P loops</T>
      <T x={23} y={479} rot={-90} s={7}>P-P loops</T>
      <ColorBar x={205.3} y={386} w={6} h={56} color={coolT} scale={sH1} ticks={[[1, "1.0"], [0, "0.0"], [-1.7, "-1.7"]]} labelX={213} size={5.6} />
      <ColorBar x={205.3} y={451} w={6} h={56} color={coolT} scale={sH2} ticks={[[1, "1.0"], [0, "0.0"], [-0.7, "-0.7"]]} labelX={213} size={5.6} />
      <EnrichLabel x={237} y={414} s={8} />
      <EnrichLabel x={237} y={479} s={8} />

      {/* I */}
      <Letter x={250} y={377.7} c="I" />
      <Box x0={269.7} x1={322} y0={[483.3, 407]} y1={[403.3, 487.7]} data={boxEP} brackets={brEP} title="E-P loops" yLabelX={259} />
      <Box x0={339.3} x1={391.7} y0={[483.3, 407]} y1={[403.3, 487.7]} data={boxPP} brackets={brPP} title="P-P loops" />
      {[[280, 286.2], [317, 323], [348.3, 354.3]].map(([a, b], i) => (
        <g key={i}>
          <rect x={a} y={493.5} width={5} height={5} fill={condColors[i]} />
          <T x={b} y={498.8} a="start" s={6.4}>{conditions[i]}</T>
        </g>
      ))}

      {/* J */}
      <Letter x={416} y={377.7} c="J" />
      <Micro yTop={371.3} title="Chr3: 53,740,000-54,360,000" matrix={region1} holes={holes1} marks={marks1} k4={k4Peaks1} k27={k27Peaks1} chrom={chrom1} geneRow={1.5} circle={[0.36, 0.335]} arrow={[0.445, 0.25]} />
      <Micro yTop={477.7} title="Chr3: 51,820,000-52,380,000" matrix={region2} holes={holes2} marks={marks2} k4={k4Peaks2} k27={k27Peaks2} chrom={chrom2} geneRow={2} circle={[0.36, 0.37]} arrow={[0.44, 0.29]} />
    </svg>
  );
}
